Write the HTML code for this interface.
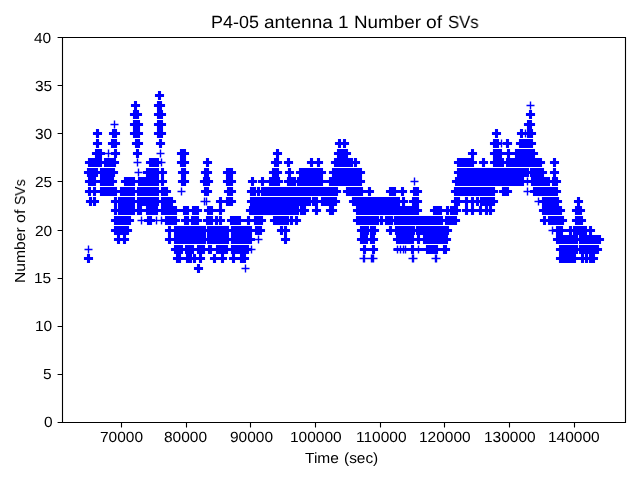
<!DOCTYPE html>
<html><head><meta charset="utf-8"><title>P4-05 antenna 1 Number of SVs</title>
<style>
html,body{margin:0;padding:0;background:#fff}
body{width:640px;height:480px;overflow:hidden;position:relative;font-family:"Liberation Sans",sans-serif;color:#000}
.t{position:absolute;white-space:nowrap;line-height:1;transform-origin:0 0;margin:0;padding:0;will-change:transform;-webkit-font-smoothing:antialiased;text-rendering:geometricPrecision}
</style></head><body>
<svg width="640" height="480" viewBox="0 0 640 480" style="position:absolute;left:0;top:0">
<path d="M196.95 263.95H200.05V273.05H196.95ZM193.95 266.95H203.05V270.05H193.95ZM86.95 253.95H90.05V263.05H86.95ZM83.95 256.95H93.05V260.05H83.95ZM175.95 253.95H181.05V263.05H175.95ZM172.95 256.95H184.05V260.05H172.95ZM185.95 253.95H192.05V263.05H185.95ZM182.95 256.95H195.05V260.05H182.95ZM192.95 253.95H196.05V263.05H192.95ZM189.95 256.95H199.05V260.05H189.95ZM198.95 253.95H202.05V263.05H198.95ZM195.95 256.95H205.05V260.05H195.95ZM212.95 253.95H216.05V263.05H212.95ZM209.95 256.95H219.05V260.05H209.95ZM220.95 253.95H224.05V263.05H220.95ZM217.95 256.95H227.05V260.05H217.95ZM231.95 253.95H235.05V263.05H231.95ZM228.95 256.95H238.05V260.05H228.95ZM239.95 253.95H243.05V263.05H239.95ZM236.95 256.95H246.05V260.05H236.95ZM242.95 253.95H246.05V263.05H242.95ZM239.95 256.95H249.05V260.05H239.95ZM558.95 253.95H576.05V263.05H558.95ZM555.95 256.95H579.05V260.05H555.95ZM580.95 253.95H584.05V263.05H580.95ZM577.95 256.95H587.05V260.05H577.95ZM584.95 253.95H588.05V263.05H584.95ZM581.95 256.95H591.05V260.05H581.95ZM588.95 253.95H592.05V263.05H588.95ZM585.95 256.95H595.05V260.05H585.95ZM591.95 253.95H595.05V263.05H591.95ZM588.95 256.95H598.05V260.05H588.95ZM173.95 244.95H183.05V254.05H173.95ZM170.95 247.95H186.05V251.05H170.95ZM184.95 244.95H194.05V254.05H184.95ZM181.95 247.95H197.05V251.05H181.95ZM196.95 244.95H205.05V254.05H196.95ZM193.95 247.95H208.05V251.05H193.95ZM207.95 244.95H212.05V254.05H207.95ZM204.95 247.95H215.05V251.05H204.95ZM215.95 244.95H228.05V254.05H215.95ZM212.95 247.95H231.05V251.05H212.95ZM230.95 244.95H249.05V254.05H230.95ZM227.95 247.95H252.05V251.05H227.95ZM362.95 244.95H366.05V254.05H362.95ZM359.95 247.95H369.05V251.05H359.95ZM371.95 244.95H375.05V254.05H371.95ZM368.95 247.95H378.05V251.05H368.95ZM410.95 244.95H414.05V254.05H410.95ZM407.95 247.95H417.05V251.05H407.95ZM425.95 244.95H438.05V254.05H425.95ZM422.95 247.95H441.05V251.05H422.95ZM442.95 244.95H447.05V254.05H442.95ZM439.95 247.95H450.05V251.05H439.95ZM558.95 244.95H578.05V254.05H558.95ZM555.95 247.95H581.05V251.05H555.95ZM578.95 244.95H599.05V254.05H578.95ZM575.95 247.95H602.05V251.05H575.95ZM393.5 247.95H423V251.05H393.5ZM116.95 234.95H120.05V244.05H116.95ZM113.95 237.95H123.05V241.05H113.95ZM122.95 234.95H126.05V244.05H122.95ZM119.95 237.95H129.05V241.05H119.95ZM167.95 234.95H171.05V244.05H167.95ZM164.95 237.95H174.05V241.05H164.95ZM173.95 234.95H206.05V244.05H173.95ZM170.95 237.95H209.05V241.05H170.95ZM206.95 234.95H229.05V244.05H206.95ZM203.95 237.95H232.05V241.05H203.95ZM230.95 234.95H252.05V244.05H230.95ZM227.95 237.95H255.05V241.05H227.95ZM283.95 234.95H287.05V244.05H283.95ZM280.95 237.95H290.05V241.05H280.95ZM359.95 234.95H368.05V244.05H359.95ZM356.95 237.95H371.05V241.05H356.95ZM369.95 234.95H375.05V244.05H369.95ZM366.95 237.95H378.05V241.05H366.95ZM395.95 234.95H414.05V244.05H395.95ZM392.95 237.95H417.05V241.05H392.95ZM416.95 234.95H420.05V244.05H416.95ZM413.95 237.95H423.05V241.05H413.95ZM422.95 234.95H448.05V244.05H422.95ZM419.95 237.95H451.05V241.05H419.95ZM555.95 234.95H578.05V244.05H555.95ZM552.95 237.95H581.05V241.05H552.95ZM578.95 234.95H601.05V244.05H578.95ZM575.95 237.95H604.05V241.05H575.95ZM113.95 225.95H129.05V235.05H113.95ZM110.95 228.95H132.05V232.05H110.95ZM167.95 225.95H171.05V235.05H167.95ZM164.95 228.95H174.05V232.05H164.95ZM173.95 225.95H206.05V235.05H173.95ZM170.95 228.95H209.05V232.05H170.95ZM206.95 225.95H229.05V235.05H206.95ZM203.95 228.95H232.05V232.05H203.95ZM230.95 225.95H252.05V235.05H230.95ZM227.95 228.95H255.05V232.05H227.95ZM254.95 225.95H262.05V235.05H254.95ZM251.95 228.95H265.05V232.05H251.95ZM279.95 225.95H283.05V235.05H279.95ZM276.95 228.95H286.05V232.05H276.95ZM283.95 225.95H287.05V235.05H283.95ZM280.95 228.95H290.05V232.05H280.95ZM359.95 225.95H369.05V235.05H359.95ZM356.95 228.95H372.05V232.05H356.95ZM369.95 225.95H376.05V235.05H369.95ZM366.95 228.95H379.05V232.05H366.95ZM388.95 225.95H392.05V235.05H388.95ZM385.95 228.95H395.05V232.05H385.95ZM394.95 225.95H415.05V235.05H394.95ZM391.95 228.95H418.05V232.05H391.95ZM415.95 225.95H449.05V235.05H415.95ZM412.95 228.95H452.05V232.05H412.95ZM555.95 225.95H563.05V235.05H555.95ZM552.95 228.95H566.05V232.05H552.95ZM568.95 225.95H572.05V235.05H568.95ZM565.95 228.95H575.05V232.05H565.95ZM572.95 225.95H587.05V235.05H572.95ZM569.95 228.95H590.05V232.05H569.95ZM588.95 225.95H592.05V235.05H588.95ZM585.95 228.95H595.05V232.05H585.95ZM113.95 215.95H131.05V225.05H113.95ZM110.95 218.95H134.05V222.05H110.95ZM146.95 215.95H152.05V225.05H146.95ZM143.95 218.95H155.05V222.05H143.95ZM164.95 215.95H177.05V225.05H164.95ZM161.95 218.95H180.05V222.05H161.95ZM183.95 215.95H189.05V225.05H183.95ZM180.95 218.95H192.05V222.05H180.95ZM190.95 215.95H199.05V225.05H190.95ZM187.95 218.95H202.05V222.05H187.95ZM205.95 215.95H213.05V225.05H205.95ZM202.95 218.95H216.05V222.05H202.95ZM214.95 215.95H218.05V225.05H214.95ZM211.95 218.95H221.05V222.05H211.95ZM218.95 215.95H222.05V225.05H218.95ZM215.95 218.95H225.05V222.05H215.95ZM229.95 215.95H241.05V225.05H229.95ZM226.95 218.95H244.05V222.05H226.95ZM246.95 215.95H250.05V225.05H246.95ZM243.95 218.95H253.05V222.05H243.95ZM253.95 215.95H263.05V225.05H253.95ZM250.95 218.95H266.05V222.05H250.95ZM272.95 215.95H289.05V225.05H272.95ZM269.95 218.95H292.05V222.05H269.95ZM289.95 215.95H293.05V225.05H289.95ZM286.95 218.95H296.05V222.05H286.95ZM294.95 215.95H298.05V225.05H294.95ZM291.95 218.95H301.05V222.05H291.95ZM355.95 215.95H379.05V225.05H355.95ZM352.95 218.95H382.05V222.05H352.95ZM379.95 215.95H383.05V225.05H379.95ZM376.95 218.95H386.05V222.05H376.95ZM384.95 215.95H393.05V225.05H384.95ZM381.95 218.95H396.05V222.05H381.95ZM393.95 215.95H443.05V225.05H393.95ZM390.95 218.95H446.05V222.05H390.95ZM444.95 215.95H457.05V225.05H444.95ZM441.95 218.95H460.05V222.05H441.95ZM542.95 215.95H546.05V225.05H542.95ZM539.95 218.95H549.05V222.05H539.95ZM547.95 215.95H564.05V225.05H547.95ZM544.95 218.95H567.05V222.05H544.95ZM574.95 215.95H583.05V225.05H574.95ZM571.95 218.95H586.05V222.05H571.95ZM113.95 205.95H117.05V215.05H113.95ZM110.95 208.95H120.05V212.05H110.95ZM117.95 205.95H135.05V215.05H117.95ZM114.95 208.95H138.05V212.05H114.95ZM136.95 205.95H142.05V215.05H136.95ZM133.95 208.95H145.05V212.05H133.95ZM145.95 205.95H158.05V215.05H145.95ZM142.95 208.95H161.05V212.05H142.95ZM160.95 205.95H177.05V215.05H160.95ZM157.95 208.95H180.05V212.05H157.95ZM182.95 205.95H189.05V215.05H182.95ZM179.95 208.95H192.05V212.05H179.95ZM191.95 205.95H199.05V215.05H191.95ZM188.95 208.95H202.05V212.05H188.95ZM206.95 205.95H213.05V215.05H206.95ZM203.95 208.95H216.05V212.05H203.95ZM218.95 205.95H222.05V215.05H218.95ZM215.95 208.95H225.05V212.05H215.95ZM248.95 205.95H299.05V215.05H248.95ZM245.95 208.95H302.05V212.05H245.95ZM299.95 205.95H303.05V215.05H299.95ZM296.95 208.95H306.05V212.05H296.95ZM302.95 205.95H306.05V215.05H302.95ZM299.95 208.95H309.05V212.05H299.95ZM314.95 205.95H318.05V215.05H314.95ZM311.95 208.95H321.05V212.05H311.95ZM328.95 205.95H334.05V215.05H328.95ZM325.95 208.95H337.05V212.05H325.95ZM355.95 205.95H419.05V215.05H355.95ZM352.95 208.95H422.05V212.05H352.95ZM432.95 205.95H442.05V215.05H432.95ZM429.95 208.95H445.05V212.05H429.95ZM445.95 205.95H449.05V215.05H445.95ZM442.95 208.95H452.05V212.05H442.95ZM449.95 205.95H458.05V215.05H449.95ZM446.95 208.95H461.05V212.05H446.95ZM464.95 205.95H468.05V215.05H464.95ZM461.95 208.95H471.05V212.05H461.95ZM470.95 205.95H474.05V215.05H470.95ZM467.95 208.95H477.05V212.05H467.95ZM478.95 205.95H482.05V215.05H478.95ZM475.95 208.95H485.05V212.05H475.95ZM484.95 205.95H488.05V215.05H484.95ZM481.95 208.95H491.05V212.05H481.95ZM488.95 205.95H492.05V215.05H488.95ZM485.95 208.95H495.05V212.05H485.95ZM541.95 205.95H562.05V215.05H541.95ZM538.95 208.95H565.05V212.05H538.95ZM574.95 205.95H582.05V215.05H574.95ZM571.95 208.95H585.05V212.05H571.95ZM88.95 196.95H92.05V206.05H88.95ZM85.95 199.95H95.05V203.05H85.95ZM92.95 196.95H96.05V206.05H92.95ZM89.95 199.95H99.05V203.05H89.95ZM113.95 196.95H117.05V206.05H113.95ZM110.95 199.95H120.05V203.05H110.95ZM117.95 196.95H135.05V206.05H117.95ZM114.95 199.95H138.05V203.05H114.95ZM136.95 196.95H159.05V206.05H136.95ZM133.95 199.95H162.05V203.05H133.95ZM160.95 196.95H173.05V206.05H160.95ZM157.95 199.95H176.05V203.05H157.95ZM218.95 196.95H222.05V206.05H218.95ZM215.95 199.95H225.05V203.05H215.95ZM225.95 196.95H233.05V206.05H225.95ZM222.95 199.95H236.05V203.05H222.95ZM249.95 196.95H311.05V206.05H249.95ZM246.95 199.95H314.05V203.05H246.95ZM311.95 196.95H315.05V206.05H311.95ZM308.95 199.95H318.05V203.05H308.95ZM314.95 196.95H318.05V206.05H314.95ZM311.95 199.95H321.05V203.05H311.95ZM320.95 196.95H337.05V206.05H320.95ZM317.95 199.95H340.05V203.05H317.95ZM351.95 196.95H400.05V206.05H351.95ZM348.95 199.95H403.05V203.05H348.95ZM401.95 196.95H405.05V206.05H401.95ZM398.95 199.95H408.05V203.05H398.95ZM411.95 196.95H419.05V206.05H411.95ZM408.95 199.95H422.05V203.05H408.95ZM453.95 196.95H460.05V206.05H453.95ZM450.95 199.95H463.05V203.05H450.95ZM464.95 196.95H468.05V206.05H464.95ZM461.95 199.95H471.05V203.05H461.95ZM470.95 196.95H474.05V206.05H470.95ZM467.95 199.95H477.05V203.05H467.95ZM475.95 196.95H479.05V206.05H475.95ZM472.95 199.95H482.05V203.05H472.95ZM479.95 196.95H483.05V206.05H479.95ZM476.95 199.95H486.05V203.05H476.95ZM481.95 196.95H485.05V206.05H481.95ZM478.95 199.95H488.05V203.05H478.95ZM484.95 196.95H495.05V206.05H484.95ZM481.95 199.95H498.05V203.05H481.95ZM541.95 196.95H559.05V206.05H541.95ZM538.95 199.95H562.05V203.05H538.95ZM576.95 196.95H580.05V206.05H576.95ZM573.95 199.95H583.05V203.05H573.95ZM87.95 186.95H91.05V196.05H87.95ZM84.95 189.95H94.05V193.05H84.95ZM92.95 186.95H96.05V196.05H92.95ZM89.95 189.95H99.05V193.05H89.95ZM99.95 186.95H114.05V196.05H99.95ZM96.95 189.95H117.05V193.05H96.95ZM113.95 186.95H117.05V196.05H113.95ZM110.95 189.95H120.05V193.05H110.95ZM119.95 186.95H135.05V196.05H119.95ZM116.95 189.95H138.05V193.05H116.95ZM136.95 186.95H159.05V196.05H136.95ZM133.95 189.95H162.05V193.05H133.95ZM160.95 186.95H168.05V196.05H160.95ZM157.95 189.95H171.05V193.05H157.95ZM203.95 186.95H209.05V196.05H203.95ZM200.95 189.95H212.05V193.05H200.95ZM226.95 186.95H233.05V196.05H226.95ZM223.95 189.95H236.05V193.05H223.95ZM249.95 186.95H256.05V196.05H249.95ZM246.95 189.95H259.05V193.05H246.95ZM256.95 186.95H260.05V196.05H256.95ZM253.95 189.95H263.05V193.05H253.95ZM260.95 186.95H338.05V196.05H260.95ZM257.95 189.95H341.05V193.05H257.95ZM345.95 186.95H363.05V196.05H345.95ZM342.95 189.95H366.05V193.05H342.95ZM367.95 186.95H371.05V196.05H367.95ZM364.95 189.95H374.05V193.05H364.95ZM388.95 186.95H396.05V196.05H388.95ZM385.95 189.95H399.05V193.05H385.95ZM400.95 186.95H404.05V196.05H400.95ZM397.95 189.95H407.05V193.05H397.95ZM412.95 186.95H419.05V196.05H412.95ZM409.95 189.95H422.05V193.05H409.95ZM453.95 186.95H495.05V196.05H453.95ZM450.95 189.95H498.05V193.05H450.95ZM501.95 186.95H509.05V196.05H501.95ZM498.95 189.95H512.05V193.05H498.95ZM532.95 186.95H558.05V196.05H532.95ZM529.95 189.95H561.05V193.05H529.95ZM87.95 176.95H96.05V186.05H87.95ZM84.95 179.95H99.05V183.05H84.95ZM99.95 176.95H114.05V186.05H99.95ZM96.95 179.95H117.05V183.05H96.95ZM123.95 176.95H135.05V186.05H123.95ZM120.95 179.95H138.05V183.05H120.95ZM137.95 176.95H159.05V186.05H137.95ZM134.95 179.95H162.05V183.05H134.95ZM160.95 176.95H164.05V186.05H160.95ZM157.95 179.95H167.05V183.05H157.95ZM180.95 176.95H186.05V186.05H180.95ZM177.95 179.95H189.05V183.05H177.95ZM202.95 176.95H210.05V186.05H202.95ZM199.95 179.95H213.05V183.05H199.95ZM225.95 176.95H233.05V186.05H225.95ZM222.95 179.95H236.05V183.05H222.95ZM250.95 176.95H254.05V186.05H250.95ZM247.95 179.95H257.05V183.05H247.95ZM260.95 176.95H264.05V186.05H260.95ZM257.95 179.95H267.05V183.05H257.95ZM268.95 176.95H280.05V186.05H268.95ZM265.95 179.95H283.05V183.05H265.95ZM286.95 176.95H296.05V186.05H286.95ZM283.95 179.95H299.05V183.05H283.95ZM296.95 176.95H323.05V186.05H296.95ZM293.95 179.95H326.05V183.05H293.95ZM328.95 176.95H362.05V186.05H328.95ZM325.95 179.95H365.05V183.05H325.95ZM454.95 176.95H524.05V186.05H454.95ZM451.95 179.95H527.05V183.05H451.95ZM530.95 176.95H550.05V186.05H530.95ZM527.95 179.95H553.05V183.05H527.95ZM551.95 176.95H558.05V186.05H551.95ZM548.95 179.95H561.05V183.05H548.95ZM86.95 167.95H98.05V177.05H86.95ZM83.95 170.95H101.05V174.05H83.95ZM99.95 167.95H115.05V177.05H99.95ZM96.95 170.95H118.05V174.05H96.95ZM145.95 167.95H159.05V177.05H145.95ZM142.95 170.95H162.05V174.05H142.95ZM160.95 167.95H164.05V177.05H160.95ZM157.95 170.95H167.05V174.05H157.95ZM180.95 167.95H186.05V177.05H180.95ZM177.95 170.95H189.05V174.05H177.95ZM203.95 167.95H209.05V177.05H203.95ZM200.95 170.95H212.05V174.05H200.95ZM225.95 167.95H233.05V177.05H225.95ZM222.95 170.95H236.05V174.05H222.95ZM271.95 167.95H279.05V177.05H271.95ZM268.95 170.95H282.05V174.05H268.95ZM287.95 167.95H291.05V177.05H287.95ZM284.95 170.95H294.05V174.05H284.95ZM298.95 167.95H323.05V177.05H298.95ZM295.95 170.95H326.05V174.05H295.95ZM331.95 167.95H362.05V177.05H331.95ZM328.95 170.95H365.05V174.05H328.95ZM456.95 167.95H529.05V177.05H456.95ZM453.95 170.95H532.05V174.05H453.95ZM529.95 167.95H544.05V177.05H529.95ZM526.95 170.95H547.05V174.05H526.95ZM552.95 167.95H556.05V177.05H552.95ZM549.95 170.95H559.05V174.05H549.95ZM87.95 157.95H102.05V167.05H87.95ZM84.95 160.95H105.05V164.05H84.95ZM103.95 157.95H116.05V167.05H103.95ZM100.95 160.95H119.05V164.05H100.95ZM148.95 157.95H159.05V167.05H148.95ZM145.95 160.95H162.05V164.05H145.95ZM179.95 157.95H186.05V167.05H179.95ZM176.95 160.95H189.05V164.05H176.95ZM205.95 157.95H209.05V167.05H205.95ZM202.95 160.95H212.05V164.05H202.95ZM273.95 157.95H279.05V167.05H273.95ZM270.95 160.95H282.05V164.05H270.95ZM286.95 157.95H290.05V167.05H286.95ZM283.95 160.95H293.05V164.05H283.95ZM309.95 157.95H313.05V167.05H309.95ZM306.95 160.95H316.05V164.05H306.95ZM316.95 157.95H320.05V167.05H316.95ZM313.95 160.95H323.05V164.05H313.95ZM333.95 157.95H353.05V167.05H333.95ZM330.95 160.95H356.05V164.05H330.95ZM353.95 157.95H357.05V167.05H353.95ZM350.95 160.95H360.05V164.05H350.95ZM456.95 157.95H474.05V167.05H456.95ZM453.95 160.95H477.05V164.05H453.95ZM481.95 157.95H485.05V167.05H481.95ZM478.95 160.95H488.05V164.05H478.95ZM492.95 157.95H504.05V167.05H492.95ZM489.95 160.95H507.05V164.05H489.95ZM505.95 157.95H542.05V167.05H505.95ZM502.95 160.95H545.05V164.05H502.95ZM552.95 157.95H556.05V167.05H552.95ZM549.95 160.95H559.05V164.05H549.95ZM94.95 148.95H102.05V158.05H94.95ZM91.95 151.95H105.05V155.05H91.95ZM113.95 148.95H117.05V158.05H113.95ZM110.95 151.95H120.05V155.05H110.95ZM135.95 148.95H139.05V158.05H135.95ZM132.95 151.95H142.05V155.05H132.95ZM179.95 148.95H186.05V158.05H179.95ZM176.95 151.95H189.05V155.05H176.95ZM275.95 148.95H279.05V158.05H275.95ZM272.95 151.95H282.05V155.05H272.95ZM336.95 148.95H348.05V158.05H336.95ZM333.95 151.95H351.05V155.05H333.95ZM470.95 148.95H474.05V158.05H470.95ZM467.95 151.95H477.05V155.05H467.95ZM492.95 148.95H502.05V158.05H492.95ZM489.95 151.95H505.05V155.05H489.95ZM506.95 148.95H510.05V158.05H506.95ZM503.95 151.95H513.05V155.05H503.95ZM514.95 148.95H535.05V158.05H514.95ZM511.95 151.95H538.05V155.05H511.95ZM95.95 138.95H99.05V148.05H95.95ZM92.95 141.95H102.05V145.05H92.95ZM110.95 138.95H117.05V148.05H110.95ZM107.95 141.95H120.05V145.05H107.95ZM134.95 138.95H140.05V148.05H134.95ZM131.95 141.95H143.05V145.05H131.95ZM158.95 138.95H162.05V148.05H158.95ZM155.95 141.95H165.05V145.05H155.95ZM337.95 138.95H341.05V148.05H337.95ZM334.95 141.95H344.05V145.05H334.95ZM342.95 138.95H346.05V148.05H342.95ZM339.95 141.95H349.05V145.05H339.95ZM492.95 138.95H499.05V148.05H492.95ZM489.95 141.95H502.05V145.05H489.95ZM505.95 138.95H509.05V148.05H505.95ZM502.95 141.95H512.05V145.05H502.95ZM518.95 138.95H533.05V148.05H518.95ZM515.95 141.95H536.05V145.05H515.95ZM95.95 128.95H99.05V138.05H95.95ZM92.95 131.95H102.05V135.05H92.95ZM111.95 128.95H117.05V138.05H111.95ZM108.95 131.95H120.05V135.05H108.95ZM132.95 128.95H140.05V138.05H132.95ZM129.95 131.95H143.05V135.05H129.95ZM156.95 128.95H163.05V138.05H156.95ZM153.95 131.95H166.05V135.05H153.95ZM494.95 128.95H498.05V138.05H494.95ZM491.95 131.95H501.05V135.05H491.95ZM519.95 128.95H523.05V138.05H519.95ZM516.95 131.95H526.05V135.05H516.95ZM526.95 128.95H533.05V138.05H526.95ZM523.95 131.95H536.05V135.05H523.95ZM132.95 119.95H140.05V129.05H132.95ZM129.95 122.95H143.05V126.05H129.95ZM156.95 119.95H163.05V129.05H156.95ZM153.95 122.95H166.05V126.05H153.95ZM526.95 119.95H532.05V129.05H526.95ZM523.95 122.95H535.05V126.05H523.95ZM132.95 109.95H139.05V119.05H132.95ZM129.95 112.95H142.05V116.05H129.95ZM156.95 109.95H163.05V119.05H156.95ZM153.95 112.95H166.05V116.05H153.95ZM528.95 109.95H532.05V119.05H528.95ZM525.95 112.95H535.05V116.05H525.95ZM133.95 100.95H137.05V110.05H133.95ZM130.95 103.95H140.05V107.05H130.95ZM156.95 100.95H162.05V110.05H156.95ZM153.95 103.95H165.05V107.05H153.95ZM157.95 90.95H161.05V100.05H157.95ZM154.95 93.95H164.05V97.05H154.95Z" fill="#0000ff" fill-rule="nonzero"/>
<path d="M241.5 268.5h8M245.5 264.5v8M359.5 258.5h8M363.5 254.5v8M360.5 258.5h8M364.5 254.5v8M367.5 258.5h8M371.5 254.5v8M368.5 258.5h8M372.5 254.5v8M369.5 258.5h8M373.5 254.5v8M408.5 258.5h8M412.5 254.5v8M409.5 258.5h8M413.5 254.5v8M431.5 258.5h8M435.5 254.5v8M432.5 258.5h8M436.5 254.5v8M84.5 249.5h8M88.5 245.5v8M247.5 249.5h8M251.5 245.5v8M393.5 249.5h8M397.5 245.5v8M396.5 249.5h8M400.5 245.5v8M399.5 249.5h8M403.5 245.5v8M401.5 249.5h8M405.5 245.5v8M414.5 249.5h8M418.5 245.5v8M254.5 239.5h8M258.5 235.5v8M548.5 230.5h8M552.5 226.5v8M137.5 220.5h8M141.5 216.5v8M152.5 220.5h8M156.5 216.5v8M157.5 220.5h8M161.5 216.5v8M200.5 201.5h8M204.5 197.5v8M202.5 201.5h8M206.5 197.5v8M534.5 201.5h8M538.5 197.5v8M177.5 191.5h8M181.5 187.5v8M523.5 191.5h8M527.5 187.5v8M410.5 181.5h8M414.5 177.5v8M523.5 181.5h8M527.5 177.5v8M134.5 172.5h8M138.5 168.5v8M133.5 162.5h8M137.5 158.5v8M157.5 162.5h8M161.5 158.5v8M104.5 153.5h8M108.5 149.5v8M156.5 153.5h8M160.5 149.5v8M497.5 143.5h8M501.5 139.5v8M521.5 133.5h8M525.5 129.5v8M110.5 124.5h8M114.5 120.5v8M526.5 105.5h8M530.5 101.5v8" fill="none" stroke="#0000ff" stroke-width="1.4"/>
<path d="M121.5 422.5v4.9M186.5 422.5v4.9M250.5 422.5v4.9M315.5 422.5v4.9M380.5 422.5v4.9M444.5 422.5v4.9M509.5 422.5v4.9M574.5 422.5v4.9M62.5 37.5h-4.9M62.5 85.5h-4.9M62.5 133.5h-4.9M62.5 181.5h-4.9M62.5 230.5h-4.9M62.5 278.5h-4.9M62.5 326.5h-4.9M62.5 374.5h-4.9M62.5 422.5h-4.9" fill="none" stroke="#000" stroke-width="1.11"/>
<path d="M62.5 37.5H625.5V422.5H62.5Z" fill="none" stroke="#000" stroke-width="1.11" stroke-linejoin="miter"/>
</svg>
<div class="t" style="left:210.67px;top:14.37px;font-size:17.66px;transform:scaleX(1.0159)">P4-05</div>
<div class="t" style="left:263.84px;top:14.37px;font-size:17.66px;transform:scaleX(1.0794)">antenna</div>
<div class="t" style="left:338.04px;top:14.37px;font-size:17.66px;transform:scaleX(1.0796)">1</div>
<div class="t" style="left:353.95px;top:14.37px;font-size:17.66px;transform:scaleX(1.0659)">Number</div>
<div class="t" style="left:426.19px;top:14.37px;font-size:17.66px;transform:scaleX(1.0907)">of</div>
<div class="t" style="left:447.56px;top:14.37px;font-size:17.66px;transform:scaleX(0.9468)">SVs</div>
<div class="t" style="left:305.32px;top:452.03px;font-size:14.72px;transform:scaleX(1.0524)">Time</div>
<div class="t" style="left:344.15px;top:452.03px;font-size:14.72px;transform:scaleX(1.0474)">(sec)</div>
<div class="t" style="left:13.63px;top:282.83px;font-size:14.72px;transform:rotate(-90deg) scaleX(1.0659)">Number</div>
<div class="t" style="left:13.63px;top:222.62px;font-size:14.72px;transform:rotate(-90deg) scaleX(1.0907)">of</div>
<div class="t" style="left:13.63px;top:204.82px;font-size:14.72px;transform:rotate(-90deg) scaleX(0.9468)">SVs</div>
<div class="t" style="left:99.53px;top:431.26px;font-size:14.72px;transform:scaleX(1.0527)">70000</div>
<div class="t" style="left:164.18px;top:431.24px;font-size:14.72px;transform:scaleX(1.0527)">80000</div>
<div class="t" style="left:229.88px;top:431.09px;font-size:14.72px;transform:scaleX(1.0527)">90000</div>
<div class="t" style="left:290.01px;top:431.17px;font-size:14.72px;transform:scaleX(1.0527)">100000</div>
<div class="t" style="left:355.71px;top:431.03px;font-size:14.72px;transform:scaleX(1.0527)">110000</div>
<div class="t" style="left:418.81px;top:431.24px;font-size:14.72px;transform:scaleX(1.0527)">120000</div>
<div class="t" style="left:483.83px;top:431px;font-size:14.72px;transform:scaleX(1.0527)">130000</div>
<div class="t" style="left:548.45px;top:430.99px;font-size:14.72px;transform:scaleX(1.0527)">140000</div>
<div class="t" style="left:34.2px;top:31.78px;font-size:14.72px;transform:scaleX(1.0527)">40</div>
<div class="t" style="left:34.75px;top:80.13px;font-size:14.72px;transform:scaleX(1.0527)">35</div>
<div class="t" style="left:35.18px;top:127.79px;font-size:14.72px;transform:scaleX(1.0527)">30</div>
<div class="t" style="left:35.48px;top:175.85px;font-size:14.72px;transform:scaleX(1.0527)">25</div>
<div class="t" style="left:35.07px;top:224.5px;font-size:14.72px;transform:scaleX(1.0527)">20</div>
<div class="t" style="left:34.08px;top:272.24px;font-size:14.72px;transform:scaleX(1.0527)">15</div>
<div class="t" style="left:34.55px;top:319.93px;font-size:14.72px;transform:scaleX(1.0527)">10</div>
<div class="t" style="left:42.64px;top:367.98px;font-size:14.72px;transform:scaleX(1.0527)">5</div>
<div class="t" style="left:44.41px;top:416.25px;font-size:14.72px;transform:scaleX(1.0527)">0</div>
</body></html>
